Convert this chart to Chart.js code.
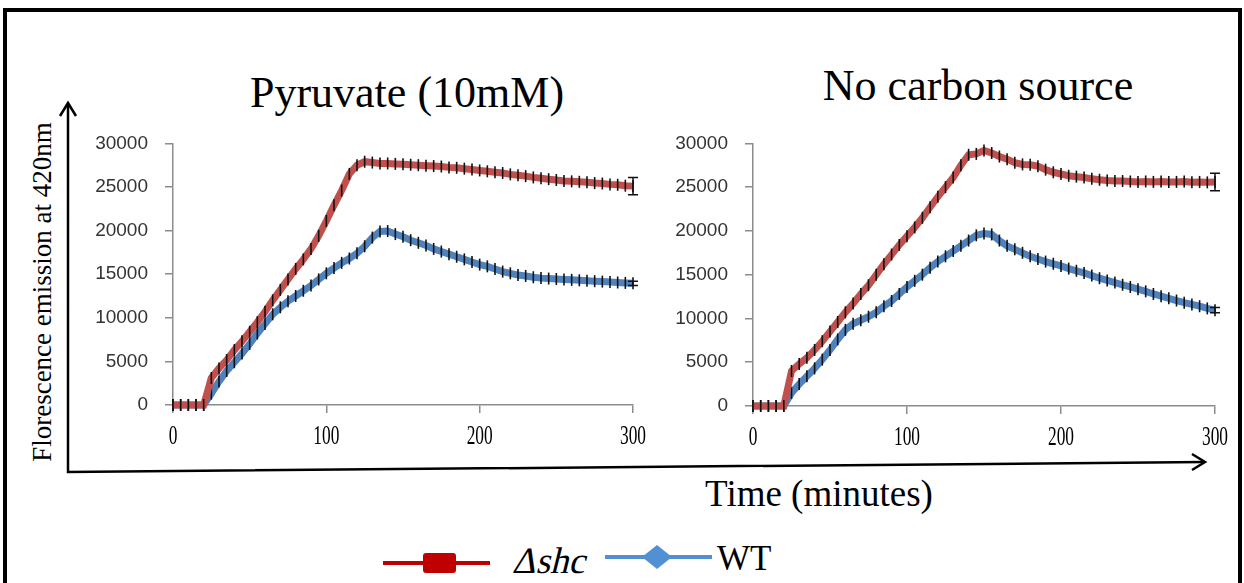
<!DOCTYPE html>
<html lang="en">
<head>
    <meta charset="UTF-8">
    <title>Florescence emission</title>
    <script src="https://cdn.jsdelivr.net/npm/chart.js"></script>
    <style>
        body {
            margin: 0;
            width: 1244px;
            height: 583px;
            overflow: hidden;
            background: #fff;
            position: relative;
            font-family: 'Liberation Serif', 'Times New Roman', serif;
        }
        .frame {
            position: absolute;
            left: 3px;
            top: 8px;
            width: 1239px;
            height: 620px;
            border: 4px solid #000;
            box-sizing: border-box;
        }
        .box {
            position: absolute;
            top: 115px;
            width: 560px;
            height: 345px;
        }
        .txt {
            position: absolute;
            line-height: 1;
            white-space: nowrap;
            color: #000;
        }
        svg {
            position: absolute;
            left: 0;
            top: 0;
        }
    </style>
</head>
<body>
    <div class="frame"></div>

    <div class="txt" style="left:407px; top:71px; font-size:44px; transform:translateX(-50%);">Pyruvate (10mM)</div>
    <div class="txt" style="left:978px; top:64px; font-size:44px; transform:translateX(-50%);">No carbon source</div>
    <div class="txt" style="left:42px; top:292px; font-size:27px; transform:translate(-50%,-50%) rotate(-90deg);">Florescence emission at 420nm</div>
    <div class="txt" style="left:819px; top:475px; font-size:37px; transform:translateX(-50%);">Time (minutes)</div>
    <div class="txt" style="left:512px; top:542px; font-size:37px; transform:skewX(-14deg); transform-origin:0 80%;">Δshc</div>
    <div class="txt" style="left:717px; top:541px; font-size:35px;">WT</div>

    <div class="box" style="left:90px;"><canvas id="pyrChart"></canvas></div>
    <div class="box" style="left:670px;"><canvas id="nocChart"></canvas></div>

    <svg width="1244" height="583">
        <!-- big axis arrows -->
        <polyline points="68,104 68,472 1204,462" fill="none" stroke="#000" stroke-width="2.5"/>
        <polyline points="60,116 68,103 76,116" fill="none" stroke="#000" stroke-width="2.5"/>
        <polyline points="1192,454 1205,462 1192,470" fill="none" stroke="#000" stroke-width="2.5"/>
        <!-- legend keys -->
        <line x1="383" y1="563" x2="490" y2="563" stroke="#c00000" stroke-width="4"/>
        <rect x="423" y="553" width="33" height="20" rx="3" fill="#c00000"/>
        <line x1="605" y1="557" x2="712" y2="557" stroke="#5290d4" stroke-width="4"/>
        <polygon points="642,557 657,545 672,557 657,569" fill="#5290d4"/>
    </svg>

    <script>
        // time points (minutes)
        const minutes = [0, 5, 10, 15, 20, 25, 30, 35, 40, 45, 50, 55, 60, 65, 70, 75, 80, 85, 90, 95,
            100, 105, 110, 115, 120, 125, 130, 135, 140, 145, 150, 155, 160, 165, 170, 175, 180, 185, 190, 195,
            200, 205, 210, 215, 220, 225, 230, 235, 240, 245, 250, 255, 260, 265, 270, 275, 280, 285, 290, 295, 300];

        // Pyruvate (10mM)
        const pyrShc = [0, 0, 0, 0, 0, 3100, 4200, 5150, 6300, 7300, 8400, 9500, 10700, 12000, 13200, 14400, 15600, 16700, 17900, 19400,
            21100, 22900, 24600, 26500, 27500, 27900, 27800, 27700, 27700, 27650, 27600, 27550, 27500, 27450, 27400, 27350, 27250, 27200, 27100, 27000,
            26900, 26800, 26700, 26600, 26450, 26350, 26250, 26100, 26000, 25900, 25800, 25700, 25650, 25600, 25550, 25450, 25400, 25300, 25250, 25150, 25100];
        const pyrWT = [0, 0, 0, 0, 0, 1300, 2700, 3900, 4900, 5900, 7000, 8200, 9300, 10400, 11200, 11900, 12500, 13100, 13700, 14400,
            15100, 15700, 16300, 16800, 17400, 18200, 19200, 19900, 19950, 19600, 19300, 18900, 18600, 18300, 17900, 17600, 17300, 17000, 16700, 16400,
            16100, 15900, 15600, 15300, 15100, 14900, 14800, 14650, 14550, 14500, 14450, 14400, 14350, 14300, 14250, 14200, 14150, 14100, 14050, 14000, 13950];

        // No carbon source
        const nocShc = [0, 0, 0, 0, 0, 4000, 4800, 5500, 6400, 7400, 8500, 9600, 10700, 11700, 12800, 13800, 15000, 16200, 17300, 18400,
            19400, 20400, 21500, 22700, 23900, 25000, 26100, 27500, 28700, 28800, 29200, 28900, 28500, 28200, 27800, 27600, 27550, 27400, 27000, 26700,
            26500, 26300, 26200, 26100, 25950, 25850, 25750, 25700, 25700, 25650, 25600, 25650, 25600, 25650, 25600, 25600, 25650, 25550, 25600, 25550, 25600];
        const nocWT = [0, 0, 0, 0, 0, 1500, 2500, 3400, 4300, 5300, 6400, 7600, 8700, 9400, 9800, 10200, 10700, 11400, 12000, 12800,
            13600, 14300, 15000, 15800, 16500, 17100, 17700, 18300, 18900, 19500, 19700, 19600, 18900, 18300, 17900, 17500, 17100, 16800, 16500, 16250,
            16000, 15700, 15450, 15200, 14900, 14600, 14350, 14100, 13850, 13600, 13350, 13100, 12800, 12550, 12300, 12050, 11800, 11600, 11400, 11150, 10950];

        // error at the last time point [Δshc, WT]
        const pyrEndErr = [1000, 250];
        const nocEndErr = [1000, 300];

        const yTicks = [0, 5000, 10000, 15000, 20000, 25000, 30000];
        const xTicks = [0, 100, 200, 300];

        const redLine = '#c0504d';
        const blueLine = '#4f81bd';

        function toPoints(vals) {
            return minutes.map((t, i) => ({ x: t, y: vals[i] }));
        }

        function series(label, vals, color) {
            return {
                label: label,
                data: toPoints(vals),
                borderColor: color,
                backgroundColor: color,
                borderWidth: 7,
                pointStyle: 'line',
                rotation: 90,
                pointRadius: 6,
                pointBorderColor: '#111',
                pointBorderWidth: 1.6,
                tension: 0,
                clip: false
            };
        }

        // condensed serif x labels + end-point error bars
        const extras = {
            id: 'extras',
            afterDatasetsDraw(chart, args, opts) {
                const ctx = chart.ctx;
                const xs = chart.scales.x;
                const ys = chart.scales.y;
                ctx.save();
                ctx.strokeStyle = '#111';
                ctx.lineWidth = 1.5;
                chart.data.datasets.forEach((ds, i) => {
                    const last = ds.data[ds.data.length - 1];
                    const px = xs.getPixelForValue(last.x);
                    const top = ys.getPixelForValue(last.y + opts.err[i]);
                    const bot = ys.getPixelForValue(last.y - opts.err[i]);
                    ctx.beginPath();
                    ctx.moveTo(px, top); ctx.lineTo(px, bot);
                    ctx.moveTo(px - 5, top); ctx.lineTo(px + 5, top);
                    ctx.moveTo(px - 5, bot); ctx.lineTo(px + 5, bot);
                    ctx.stroke();
                });
                ctx.restore();
            },
            afterDraw(chart) {
                const ctx = chart.ctx;
                const xs = chart.scales.x;
                ctx.save();
                ctx.fillStyle = '#000';
                ctx.font = '28px "Liberation Serif"';
                ctx.textAlign = 'center';
                ctx.textBaseline = 'middle';
                xTicks.forEach(v => {
                    ctx.save();
                    ctx.translate(xs.getPixelForValue(v), chart.chartArea.bottom + 32);
                    ctx.scale(0.62, 1);
                    ctx.fillText(String(v), 0, 0);
                    ctx.restore();
                });
                ctx.restore();
            }
        };

        function makeChart(id, shc, wt, err, pad) {
            return new Chart(document.getElementById(id), {
                type: 'line',
                data: {
                    datasets: [
                        series('Δshc', shc, redLine),
                        series('WT', wt, blueLine)
                    ]
                },
                options: {
                    responsive: true,
                    maintainAspectRatio: false,
                    animation: false,
                    layout: { padding: pad },
                    plugins: {
                        legend: { display: false },
                        tooltip: { enabled: false },
                        extras: { err: err }
                    },
                    scales: {
                        x: {
                            type: 'linear',
                            min: 0,
                            max: 300,
                            afterBuildTicks: s => { s.ticks = xTicks.map(v => ({ value: v })); },
                            afterFit: s => { s.height = 40; },
                            border: { color: '#8c8c8c', width: 1.5 },
                            grid: { drawOnChartArea: false, drawTicks: true, tickLength: 8, color: '#8c8c8c', lineWidth: 1.5 },
                            ticks: { display: false }
                        },
                        y: {
                            min: 0,
                            max: 30000,
                            afterBuildTicks: s => { s.ticks = yTicks.map(v => ({ value: v })); },
                            afterFit: s => { s.width = 83; },
                            border: { color: '#8c8c8c', width: 1.5 },
                            grid: { drawOnChartArea: false, drawTicks: true, tickLength: 8, color: '#8c8c8c', lineWidth: 1.5 },
                            ticks: {
                                padding: 17,
                                color: '#333',
                                font: { family: 'Liberation Sans', size: 19 },
                                callback: v => String(v)
                            }
                        }
                    }
                },
                plugins: [extras]
            });
        }

        makeChart('pyrChart', pyrShc, pyrWT, pyrEndErr, { left: 0, right: 17, top: 18, bottom: 15 });
        makeChart('nocChart', nocShc, nocWT, nocEndErr, { left: 0, right: 15, top: 19, bottom: 14 });
    </script>
</body>
</html>
